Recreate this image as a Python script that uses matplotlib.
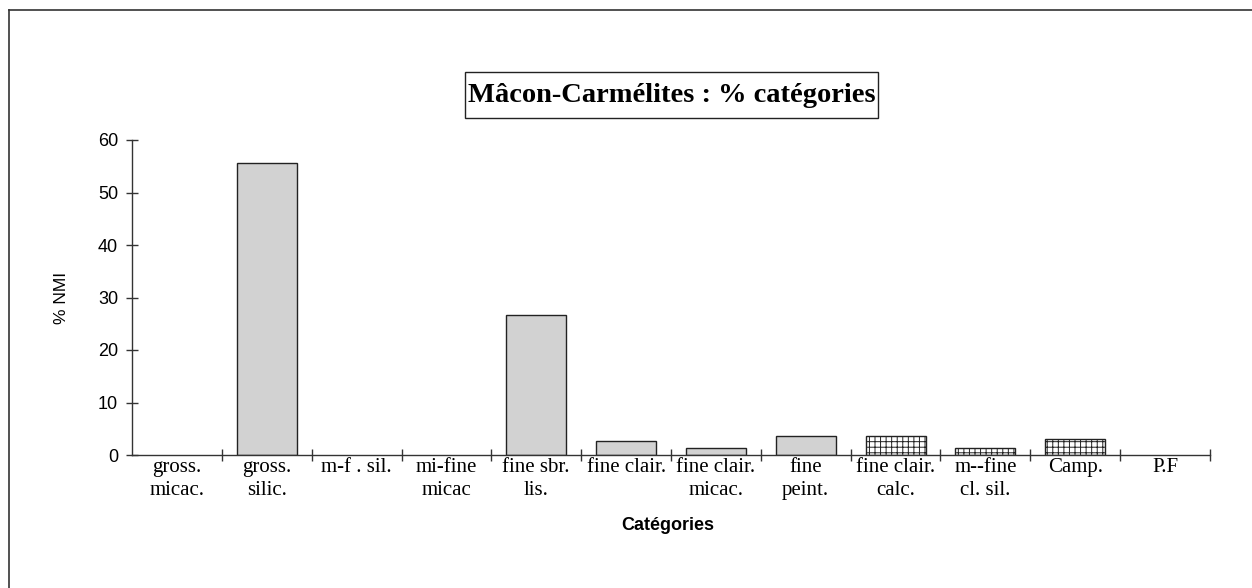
import matplotlib
matplotlib.use("Agg")
import matplotlib.pyplot as plt
from matplotlib.patches import Rectangle
from matplotlib.lines import Line2D
import numpy as np

categories = ["gross.\nmicac.", "gross.\nsilic.", "m-f . sil.", "mi-fine\nmicac",
              "fine sbr.\nlis.", "fine clair.", "fine clair.\nmicac.", "fine\npeint.",
              "fine clair.\ncalc.", "m--fine\ncl. sil.", "Camp.", "P.F"]
values = [0, 55.6, 0, 0, 26.7, 2.7, 1.4, 3.6, 3.6, 1.3, 3.0, 0]
groups = ["commune"] * 8 + ["importée"] * 3 + ["commune"]
yticks = [0, 10, 20, 30, 40, 50, 60]
title = "Mâcon-Carmélites : % catégories"
xlabel = "Catégories"
ylabel = "% NMI"

plt.rcParams['hatch.linewidth'] = 0.7
plt.rcParams['hatch.color'] = '#222222'

W, H = 1252, 588
fig = plt.figure(figsize=(W / 100, H / 100), dpi=100)
fig.patch.set_facecolor("white")

ax = fig.add_axes([132 / W, (H - 455) / H, (1210 - 132) / W, (455 - 140) / H])
x = np.arange(len(categories))
for xi, v, g in zip(x, values, groups):
    if v <= 0:
        continue
    if g == "importée":
        ax.bar(xi, v, width=0.667, facecolor="white", edgecolor="#222222",
               hatch="+++", linewidth=1.0, zorder=2)
    else:
        ax.bar(xi, v, width=0.667, facecolor="#d2d2d2", edgecolor="#222222",
               linewidth=1.0, zorder=2)

ax.set_xlim(-0.5, len(categories) - 0.5)
ax.set_ylim(0, 60)
for s in ["top", "right"]:
    ax.spines[s].set_visible(False)
for s in ["left", "bottom"]:
    ax.spines[s].set_color("#333333")
    ax.spines[s].set_linewidth(1.0)
    ax.spines[s].set_zorder(3)

ax.set_yticks(yticks)
ax.set_yticklabels([str(t) for t in yticks], fontsize=13, family="Liberation Sans")
ax.tick_params(axis="y", direction="inout", length=8, width=1.0, color="#333333", pad=6)

ax.set_xticks(np.arange(len(categories) + 1)[1:] - 0.5)
ax.set_xticklabels([])
ax.tick_params(axis="x", which="major", direction="inout", length=8, width=1.0, color="#333333")
ax.set_xticks(x, minor=True)
ax.set_xticklabels(categories, minor=True, fontsize=15, family="Liberation Serif",
                   linespacing=1.3)
ax.tick_params(axis="x", which="minor", length=0, pad=2)

ax.set_ylabel(ylabel, fontsize=12.5, family="Liberation Sans")
ax.yaxis.set_label_coords(-0.058, 0.5)
fig.text(668 / W, 1 - 525 / H, xlabel, fontsize=13, fontweight="bold",
         family="Liberation Sans", ha="center", va="center")

# title box
fig.patches.append(Rectangle((465 / W, (H - 118) / H), 413 / W, 46 / H,
                             transform=fig.transFigure, facecolor="white",
                             edgecolor="#222222", linewidth=1.0))
fig.text(671.5 / W, 1 - 95 / H, title, fontsize=20.5, fontweight="bold",
         family="Liberation Serif", ha="center", va="center")

# outer frame (top & left)
fig.lines.append(Line2D([9 / W, 1.0], [1 - 10 / H, 1 - 10 / H], transform=fig.transFigure,
                        color="#333333", linewidth=1.2))
fig.lines.append(Line2D([9 / W, 9 / W], [0, 1 - 10 / H], transform=fig.transFigure,
                        color="#333333", linewidth=1.2))

fig.savefig("out.png", dpi=100)
